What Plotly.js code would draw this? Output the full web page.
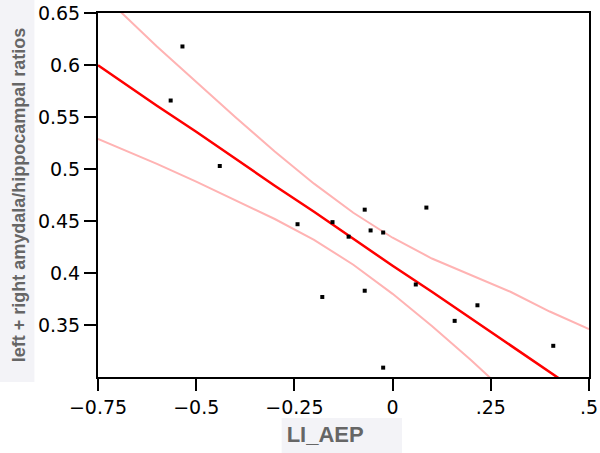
<!DOCTYPE html>
<html>
<head>
<meta charset="utf-8">
<script src="https://cdn.plot.ly/plotly-3.0.1.min.js"></script>
<style>html,body{margin:0;padding:0;background:#fff;}#chart{width:600px;height:453px;}</style>
</head>
<body>
<div id="chart"></div>
<script>
// Observed points (LI_AEP vs ratio)
const pointX = [-0.535, -0.565, -0.440, -0.242, -0.153, -0.112, -0.071, -0.056, -0.024, -0.179, -0.071, -0.024, 0.059, 0.086, 0.158, 0.216, 0.409];
const pointY = [0.618, 0.566, 0.503, 0.447, 0.449, 0.435, 0.461, 0.441, 0.439, 0.377, 0.383, 0.309, 0.389, 0.463, 0.354, 0.369, 0.330];

// Fitted line and confidence band
const fitX   = [-0.75, -0.7, -0.6, -0.5, -0.4, -0.3, -0.2, -0.1, 0, 0.1, 0.2, 0.3, 0.4, 0.5];
const fitY   = [0.600, 0.587, 0.561, 0.536, 0.510, 0.484, 0.459, 0.433, 0.407, 0.382, 0.356, 0.330, 0.304, 0.279];
const upperY = [0.671, 0.654, 0.618, 0.584, 0.550, 0.517, 0.486, 0.458, 0.434, 0.414, 0.398, 0.382, 0.363, 0.346];
const lowerY = [0.529, 0.521, 0.505, 0.488, 0.470, 0.452, 0.432, 0.408, 0.380, 0.349, 0.316, 0.282, 0.248, 0.212];

const xTickVals = [-0.75, -0.5, -0.25, 0, 0.25, 0.5];
const xTickText = ['\u22120.75', '\u22120.5', '\u22120.25', '0', '.25', '.5'];
const yTickVals = [0.35, 0.4, 0.45, 0.5, 0.55, 0.6, 0.65];
const yTickText = ['0.35', '0.4', '0.45', '0.5', '0.55', '0.6', '0.65'];

const bandColor = '#ffb3b3';
const traces = [
  {x: fitX, y: upperY, mode: 'lines', line: {color: bandColor, width: 2}, hoverinfo: 'skip'},
  {x: fitX, y: lowerY, mode: 'lines', line: {color: bandColor, width: 2}, hoverinfo: 'skip'},
  {x: fitX, y: fitY, mode: 'lines', line: {color: '#ff0000', width: 2.5}},
  {x: pointX, y: pointY, mode: 'markers', marker: {symbol: 'square', size: 4, color: '#000'}}
];

const tickFont = {family: 'DejaVu Sans', size: 19, color: '#000'};
const layout = {
  width: 600, height: 453,
  margin: {l: 98, r: 11, t: 13, b: 76},
  showlegend: false,
  paper_bgcolor: '#fff', plot_bgcolor: '#fff',
  xaxis: {
    range: [-0.75, 0.5], tickvals: xTickVals, ticktext: xTickText,
    showline: true, mirror: true, linecolor: '#000', linewidth: 2,
    ticks: 'outside', ticklen: 12, tickwidth: 2, tickcolor: '#000',
    showgrid: false, zeroline: false, tickfont: tickFont, ticklabeloverflow: 'allow',
    title: {text: 'LI_AEP<span style="color:rgba(0,0,0,0)">___</span>', standoff: 10, font: {family: 'Liberation Sans', size: 22, color: '#666666', weight: 'bold'}}
  },
  yaxis: {
    range: [0.30, 0.6502], tickvals: yTickVals, ticktext: yTickText,
    showline: true, mirror: true, linecolor: '#000', linewidth: 2,
    ticks: 'outside', ticklen: 12, tickwidth: 2, tickcolor: '#000',
    showgrid: false, zeroline: false, tickfont: tickFont, ticklabeloverflow: 'allow',
    title: {text: 'left + right amydala/hippocampal ratios', standoff: 8, font: {family: 'Liberation Sans', size: 18, color: '#666666', weight: 'bold'}}
  },
  shapes: [
    {type: 'rect', xref: 'paper', yref: 'paper', x0: -0.2008, x1: -0.1295, y0: -0.0137, y1: 1.04, fillcolor: '#f3f3f7', line: {width: 0}, layer: 'below'},
    {type: 'rect', xref: 'paper', yref: 'paper', x0: 0.374, x1: 0.619, y0: -0.2088, y1: -0.1126, fillcolor: '#f3f3f7', line: {width: 0}, layer: 'below'}
  ]
};
Plotly.newPlot('chart', traces, layout, {displayModeBar: false, staticPlot: true});
</script>
</body>
</html>
